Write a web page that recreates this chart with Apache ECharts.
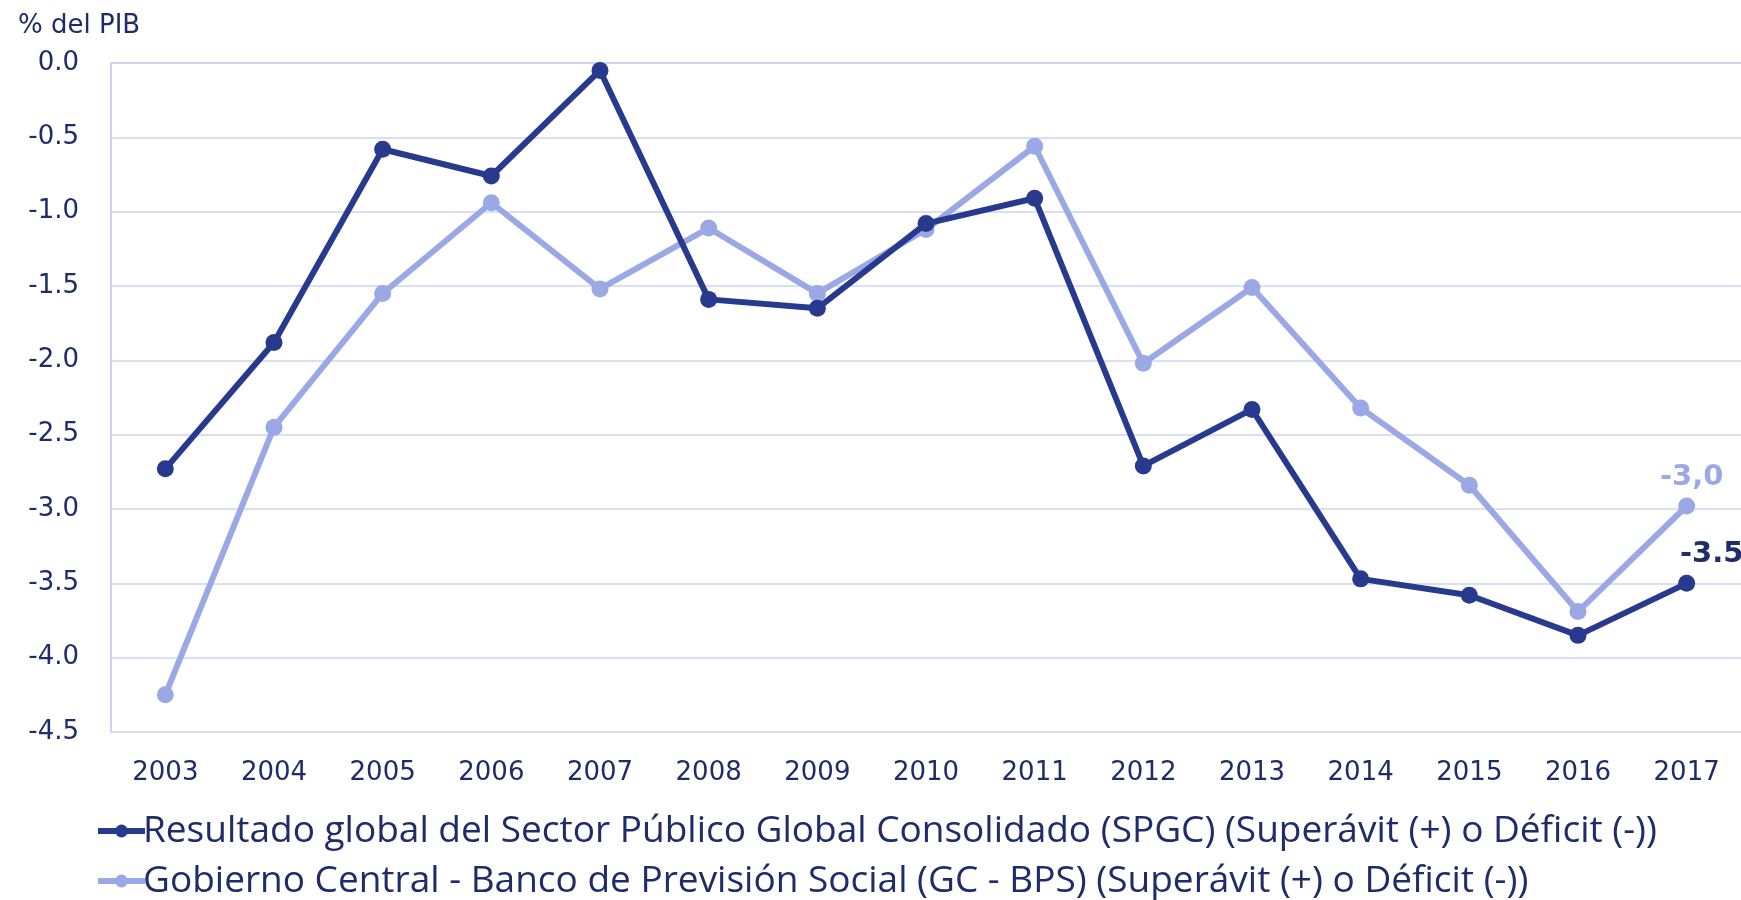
<!DOCTYPE html>
<html>
<head>
<meta charset="utf-8">
<script src="https://cdn.jsdelivr.net/npm/echarts@6/dist/echarts.min.js"></script>
<style>
html, body { margin: 0; padding: 0; background: #fff; }
#chart { width: 1741px; height: 900px; }
</style>
</head>
<body>
<div id="chart"></div>
<script>
var years = ['2003', '2004', '2005', '2006', '2007', '2008', '2009', '2010', '2011', '2012', '2013', '2014', '2015', '2016', '2017'];
var spgc = [-2.73, -1.88, -0.58, -0.76, -0.05, -1.59, -1.65, -1.08, -0.91, -2.71, -2.33, -3.47, -3.58, -3.85, -3.50];
var gcBps = [-4.25, -2.45, -1.55, -0.94, -1.52, -1.11, -1.55, -1.12, -0.56, -2.02, -1.51, -2.32, -2.84, -3.69, -2.98];
var seriesNames = [
	'Resultado global del Sector Público Global Consolidado (SPGC) (Superávit (+) o Déficit (-))',
	'Gobierno Central - Banco de Previsión Social (GC - BPS) (Superávit (+) o Déficit (-))'
];
var lastLabels = ['-3.5', '-3,0'];

var darkBlue = '#283a8e';
var lightBlue = '#9aa9e5';
var textColor = '#1f2c6a';

// solo el último punto lleva etiqueta
function lastOnly(values, text, color, offset){
	return values.map(function(v, i){
		if(i != values.length - 1) return v;
		return {
			value : v,
			label : {
				show : true,
				position : 'top',
				distance : 6,
				offset : offset,
				formatter : text,
				color : color,
				fontWeight : 'bold',
				fontSize : 29,
				fontFamily : 'DejaVu Sans'
			}
		};
	});
}

// una leyenda por fila
function legendRow(name, top){
	return {
		left : 95,
		top : top,
		padding : 0,
		itemWidth : 47,
		itemHeight : 16,
		lineStyle : { width : 6 },
		textStyle : { color : textColor, fontSize : 37, lineHeight : 40, fontFamily : 'Open Sans', padding : [0, 0, 0, -7] },
		data : [name]
	};
}

var myChart = echarts.init(document.getElementById('chart'));
var option = {
	animation : false,
	title : {
		text : '% del PIB',
		left : 13,
		top : 8,
		textStyle : { color : textColor, fontSize : 26, fontWeight : 'normal', fontFamily : 'DejaVu Sans' }
	},
	grid : { left : 111, right : 0, top : 63, bottom : 168, containLabel : false },
	legend : [
		legendRow(seriesNames[0], 811),
		legendRow(seriesNames[1], 861)
	],
	xAxis : {
		type : 'category',
		data : years,
		axisLine : { lineStyle : { color : '#ccd4f0', width : 2 } },
		axisTick : { show : false },
		axisLabel : { color : textColor, fontSize : 26, margin : 28, fontFamily : 'DejaVu Sans' }
	},
	yAxis : {
		type : 'value',
		min : -4.5,
		max : 0,
		interval : 0.5,
		axisLine : { show : true, lineStyle : { color : '#ccd4f0', width : 2 } },
		axisTick : { show : false },
		splitLine : { lineStyle : { color : '#ccd4f0', width : 1.5 } },
		axisLabel : {
			color : textColor, fontSize : 26, margin : 32, fontFamily : 'DejaVu Sans',
			formatter : function(v){ return v.toFixed(1); }
		}
	},
	series : [
		{
			name : seriesNames[0],
			type : 'line',
			data : lastOnly(spgc, lastLabels[0], '#1f2c6a', [25, 0]),
			symbol : 'circle',
			symbolSize : 17,
			itemStyle : { color : darkBlue },
			lineStyle : { color : darkBlue, width : 6 },
			z : 3
		},
		{
			name : seriesNames[1],
			type : 'line',
			data : lastOnly(gcBps, lastLabels[1], lightBlue, [5, 0]),
			symbol : 'circle',
			symbolSize : 17,
			itemStyle : { color : lightBlue },
			lineStyle : { color : lightBlue, width : 6 },
			z : 2
		}
	]
};
myChart.setOption(option);
</script>
</body>
</html>
